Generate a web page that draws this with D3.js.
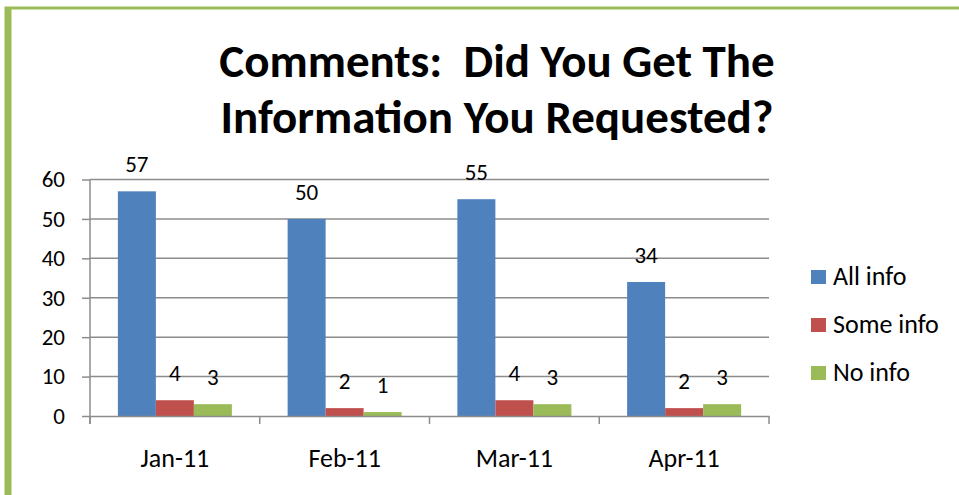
<!DOCTYPE html>
<html><head><meta charset="utf-8">
<script src="https://cdn.jsdelivr.net/npm/d3@7"></script>
<style>body{margin:0;background:#fff}svg{display:block}</style>
</head><body>
<svg id="c" width="959" height="495"></svg>
<script>
const categories = ["Jan-11","Feb-11","Mar-11","Apr-11"];
const seriesNames = ["All info","Some info","No info"];
const allInfo = [57,50,55,34];
const someInfo = [4,2,4,2];
const noInfo = [3,1,3,3];
const yTicks = [0,10,20,30,40,50,60];
const colors = ["#4f81bd","#c0504d","#9bbb59"];
const series = [allInfo, someInfo, noInfo];
const titleLines = ["Comments:\u00a0 Did You Get The", "Information You Requested?"];

const svg = d3.select("#c");
const font = "Calibri, Carlito, Lato, 'Open Sans', sans-serif";

// border
svg.append("rect").attr("x",6).attr("y",8).attr("width",960).attr("height",500)
  .attr("fill","none").attr("stroke","#9bbb59").attr("stroke-width",3);
svg.append("line").attr("x1",9).attr("x2",9).attr("y1",8).attr("y2",495).attr("stroke","#9bbb59").attr("stroke-width",5);

const x0 = d3.scaleBand().domain(categories).range([90,769]);
const x1 = d3.scaleBand().domain(seriesNames).range([0,114]);
const y = d3.scaleLinear().domain([0,60]).range([416,179.5]);

// gridlines
svg.append("g").selectAll("line").data(yTicks.filter(d=>d>0)).join("line")
  .attr("x1",90).attr("x2",769).attr("y1",d=>y(d)).attr("y2",d=>y(d))
  .attr("stroke","#8c8c8c").attr("stroke-width",1.5);

// y axis
const ya = svg.append("g").attr("transform","translate(90,0)")
  .call(d3.axisLeft(y).tickValues(yTicks).tickSize(8).tickPadding(17));
ya.select(".domain").remove();
ya.selectAll(".tick line").attr("stroke","#8c8c8c").attr("stroke-width",1.5);
ya.selectAll(".tick text").attr("font-family",font).attr("font-size",23).attr("fill","#000");
svg.append("line").attr("x1",90).attr("x2",90).attr("y1",179.5).attr("y2",424).attr("stroke","#8c8c8c").attr("stroke-width",1.5);

// bars
categories.forEach((c,i)=>{
  const g = svg.append("g").attr("transform",`translate(${x0(c)+(x0.bandwidth()-114)/2},0)`);
  const d = series.map((s,k)=>({k,v:s[i]}));
  g.selectAll("rect").data(d).join("rect")
    .attr("x",d=>x1(seriesNames[d.k])).attr("width",x1.bandwidth())
    .attr("y",d=>y(d.v)).attr("height",d=>y(0)-y(d.v)).attr("fill",d=>colors[d.k]);
  g.selectAll("text").data(d).join("text")
    .attr("x",d=>x1(seriesNames[d.k])+x1.bandwidth()/2).attr("y",d=>y(d.v)-19)
    .attr("text-anchor","middle").attr("font-family",font).attr("font-size",23).text(d=>d.v);
});

// x axis
const xa = svg.append("g").attr("transform","translate(0,416)")
  .call(d3.axisBottom(x0).tickSize(0));
xa.select(".domain").attr("stroke","#8c8c8c").attr("stroke-width",1.5);
xa.selectAll(".tick text").attr("y",51).attr("dy",0).attr("font-family",font).attr("font-size",26).attr("fill","#000");
svg.append("g").selectAll("line").data(categories.map(c=>x0(c)+x0.bandwidth()).concat([90])).join("line")
  .attr("x1",d=>d).attr("x2",d=>d).attr("y1",416).attr("y2",424).attr("stroke","#8c8c8c").attr("stroke-width",1.5);

// title
svg.append("g").selectAll("text").data(titleLines).join("text")
  .attr("x",497).attr("y",(d,i)=>77+i*56).attr("text-anchor","middle")
  .attr("font-family",font).attr("font-weight","bold").attr("font-size",47).text(d=>d);

// legend
const lg = svg.append("g").selectAll("g").data(seriesNames).join("g")
  .attr("transform",(d,i)=>`translate(811,${277+i*48})`);
lg.append("rect").attr("y",-7).attr("width",15).attr("height",14).attr("fill",(d,i)=>colors[i]);
lg.append("text").attr("x",22).attr("y",8).attr("font-family",font).attr("font-size",26).text(d=>d);
</script>
</body></html>
